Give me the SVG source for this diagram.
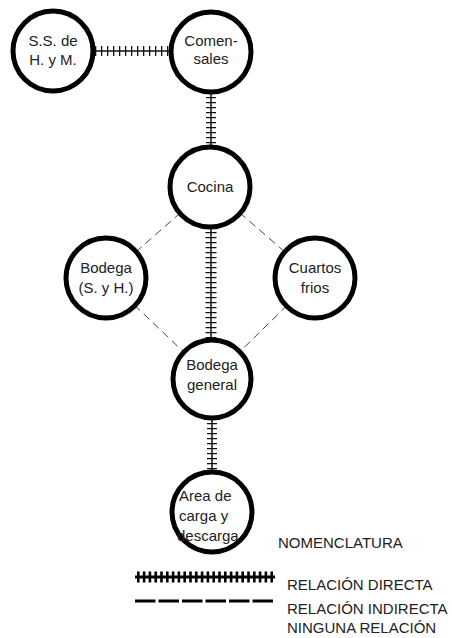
<svg xmlns="http://www.w3.org/2000/svg" width="452" height="638" viewBox="0 0 452 638">
<style>
.node{fill:#fff;stroke:#000;stroke-width:5}
.t{font-family:"Liberation Sans",Arial,sans-serif;font-size:15px;fill:#222;text-anchor:middle}
.lt{font-family:"Liberation Sans",Arial,sans-serif;font-size:15px;fill:#222}
.core{stroke:#111;stroke-width:1.5;fill:none}
.tick{stroke:#111;stroke-width:1.3;fill:none;stroke-dasharray:1.3 3.7}
.dash{stroke:#444;stroke-width:1;fill:none;stroke-dasharray:8 5}
</style>
<rect width="452" height="638" fill="#fff"/>
<g id="connectors">
<line class="dash" x1="210" y1="187" x2="106" y2="278"/>
<line class="dash" x1="210" y1="187" x2="315" y2="278"/>
<line class="dash" x1="106" y1="278" x2="212" y2="379"/>
<line class="dash" x1="315" y1="278" x2="212" y2="379"/>
<line class="core" x1="93" y1="51" x2="171" y2="51"/>
<line class="tick" x1="95" y1="51" x2="171" y2="51" style="stroke-width:10;stroke-dasharray:1.3 4.7"/>
<line class="core" x1="211" y1="92" x2="211" y2="147"/>
<line class="tick" x1="211" y1="92" x2="211" y2="147" style="stroke-width:10"/>
<line class="core" x1="211" y1="227" x2="211" y2="340"/>
<line class="tick" x1="211" y1="227" x2="211" y2="340" style="stroke-width:11"/>
<line class="core" x1="212" y1="418" x2="212" y2="472"/>
<line class="tick" x1="212" y1="418" x2="212" y2="472" style="stroke-width:10"/>
</g>
<g id="ss">
<circle class="node" cx="53" cy="51" r="40"/>
<text class="t" x="53" y="46">S.S. de</text>
<text class="t" x="53" y="65">H. y M.</text>
</g>
<g id="comensales">
<circle class="node" cx="211" cy="52" r="40"/>
<text class="t" x="211" y="46">Comen-</text>
<text class="t" x="211" y="64">sales</text>
</g>
<g id="cocina">
<circle class="node" cx="210" cy="187" r="40"/>
<text class="t" x="210" y="192">Cocina</text>
</g>
<g id="bodega-sh">
<circle class="node" cx="106" cy="278" r="40"/>
<text class="t" x="106" y="273">Bodega</text>
<text class="t" x="106" y="293">(S. y H.)</text>
</g>
<g id="cuartos">
<circle class="node" cx="315" cy="278" r="40"/>
<text class="t" x="315" y="273">Cuartos</text>
<text class="t" x="315" y="293">frios</text>
</g>
<g id="bodega-general">
<circle class="node" cx="212" cy="379" r="39"/>
<text class="t" x="212" y="370">Bodega</text>
<text class="t" x="212" y="390">general</text>
</g>
<g id="area">
<circle class="node" cx="212" cy="512" r="40"/>
<text class="lt" x="179" y="501">Area de</text>
<text class="lt" x="179" y="521">carga y</text>
<text class="lt" x="177" y="541">descarga</text>
</g>
<g id="legend">
<text class="lt" x="278" y="548">NOMENCLATURA</text>
<line x1="135" y1="577" x2="275" y2="577" stroke="#000" stroke-width="3"/>
<line x1="137" y1="577" x2="275" y2="577" stroke="#000" stroke-width="11" stroke-dasharray="2.6 3.2"/>
<text class="lt" x="287" y="590">RELACIÓN DIRECTA</text>
<line x1="135" y1="601" x2="275" y2="601" stroke="#000" stroke-width="3" stroke-dasharray="20.5 3"/>
<text class="lt" x="287" y="614">RELACIÓN INDIRECTA</text>
<text class="lt" x="287" y="633">NINGUNA RELACIÓN</text>
</g>
</svg>
